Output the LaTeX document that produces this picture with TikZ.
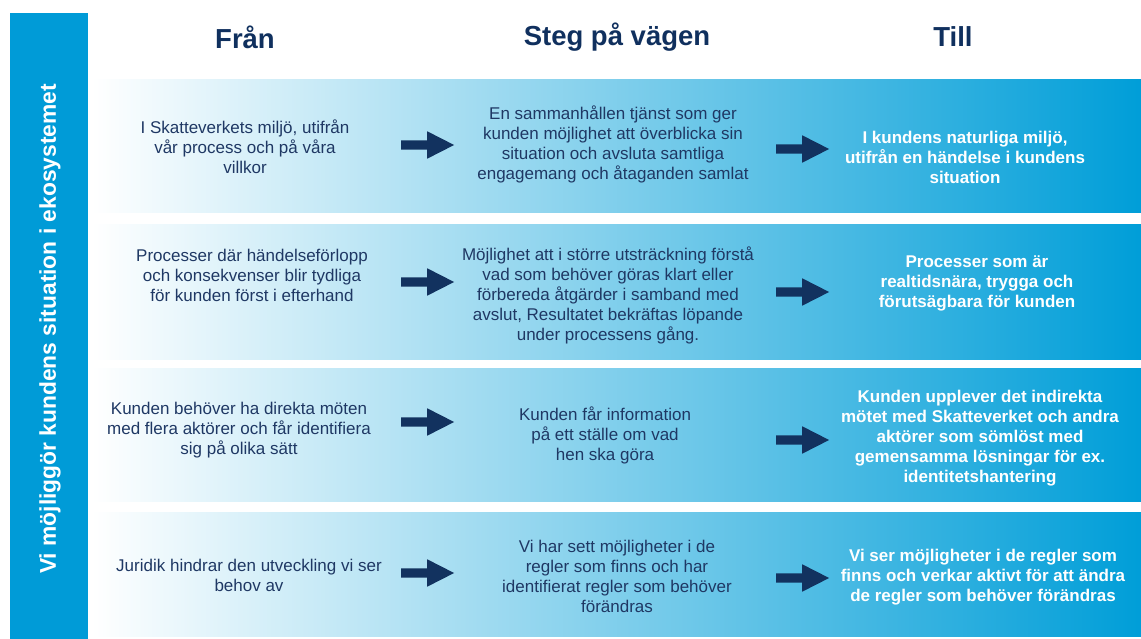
\documentclass[tikz,border=0pt]{standalone}
\usepackage{fontspec}
\setmainfont{Liberation Sans}
\usepackage{xcolor}
\usetikzlibrary{shapes.arrows}
\definecolor{skvblue}{HTML}{009BD7}
\definecolor{skvband}{HTML}{009ED8}
\definecolor{skvnavy}{HTML}{10305E}
\definecolor{skvtext}{HTML}{1F3864}
\definecolor{skvarrow}{HTML}{12325F}

\tikzset{
  fromtext/.style={align=center, text=skvtext, inner sep=0pt, font=\fontsize{17}{20}\selectfont},
  totext/.style={align=center, text=white, inner sep=0pt, font=\fontsize{17}{20}\selectfont\bfseries},
  colhead/.style={text=skvnavy, inner sep=0pt, font=\fontsize{27.5}{32}\selectfont\bfseries},
  blockarrow/.style={single arrow, fill=skvarrow, draw=none, inner xsep=0pt, inner ysep=4.5pt,
    minimum height=53pt, single arrow head extend=9pt, single arrow tip angle=54}
}

\begin{document}
\begin{tikzpicture}[x=1pt, y=-1pt]
      \useasboundingbox (0,0) rectangle (1141,639);

      \def\bandL{92}
      \def\bandR{1141}

      \foreach \ya/\yb in {80/213, 225/359, 368/501, 512/636}{
        \shade[left color=white, right color=skvband] (\bandL,\ya) rectangle (\bandR,\yb);
      }

      \fill[skvblue] (10,13) rectangle (88,639);
      \node[rotate=90, text=white, inner sep=0pt, font=\fontsize{22.8}{26}\selectfont\bfseries] (vision) at (50,329)
        {Vi möjliggör kundens situation i ekosystemet};

      \node[colhead] (hfran) at (245,37) {Från};
      \node[colhead] (hsteg) at (617,37) {Steg på vägen};
      \node[colhead] (htill) at (953,37) {Till};

      \node[fromtext] (fran1) at (245,147) {I Skatteverkets miljö, utifrån\\vår process och på våra\\villkor};
      \node[fromtext] (steg1) at (613,144) {En sammanhållen tjänst som ger\\kunden möjlighet att överblicka sin\\situation och avsluta samtliga\\engagemang och åtaganden samlat};
      \node[totext]   (till1) at (965,157) {I kundens naturliga miljö,\\utifrån en händelse i kundens\\situation};

      \node[fromtext] (fran2) at (252,275) {Processer där händelseförlopp\\och konsekvenser blir tydliga\\för kunden först i efterhand};
      \node[fromtext] (steg2) at (608,295) {Möjlighet att i större utsträckning förstå\\vad som behöver göras klart eller\\förbereda åtgärder i samband med\\avslut, Resultatet bekräftas löpande\\under processens gång.};
      \node[totext]   (till2) at (977,283) {Processer som är\\realtidsnära, trygga och\\förutsägbara för kunden};

      \node[fromtext] (fran3) at (239,430) {Kunden behöver ha direkta möten\\med flera aktörer och får identifiera\\sig på olika sätt};
      \node[fromtext] (steg3) at (605,435) {Kunden får information\\på ett ställe om vad\\hen ska göra};
      \node[totext]   (till3) at (980,438) {Kunden upplever det indirekta\\mötet med Skatteverket och andra\\aktörer som sömlöst med\\gemensamma lösningar för ex.\\identitetshantering};

      \node[fromtext] (fran4) at (249,575) {Juridik hindrar den utveckling vi ser\\behov av};
      \node[fromtext] (steg4) at (617,576) {Vi har sett möjligheter i de\\regler som finns och har\\identifierat regler som behöver\\förändras};
      \node[totext]   (till4) at (983,577) {Vi ser möjligheter i de regler som\\finns och verkar aktivt för att ändra\\de regler som behöver förändras};

      \foreach \name/\x/\y in {pilA1/423/145, pilB1/798/149, pilA2/423/282, pilB2/798/292,
                               pilA3/423/422, pilB3/798/440, pilA4/423/573, pilB4/798/578}{
        \node[blockarrow] (\name) at (\x,\y) {};
      }

    \end{tikzpicture}
\end{document}
